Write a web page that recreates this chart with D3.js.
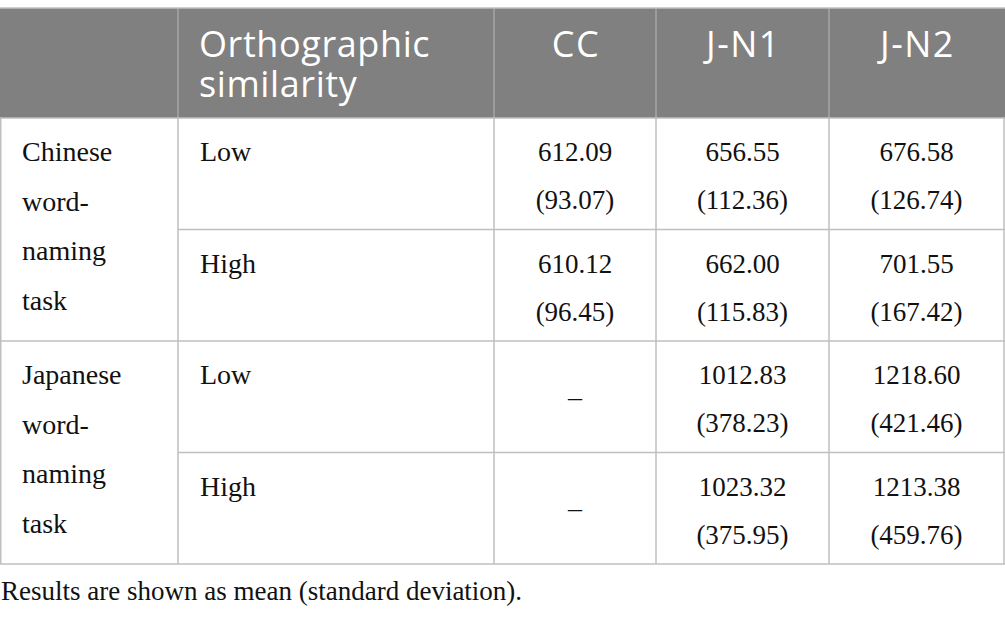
<!DOCTYPE html>
<html><head><meta charset="utf-8">
<script src="https://cdn.jsdelivr.net/npm/d3@7/dist/d3.min.js"></script>
<style>html,body{margin:0;padding:0;background:#fff;}svg{display:block;}</style>
</head><body>
<svg id="chart" width="1005" height="621"></svg>
<script>
// ---- data ----
const headers = ["", "Orthographic\nsimilarity", "CC", "J-N1", "J-N2"];
const groups = ["Chinese\nword-\nnaming\ntask", "Japanese\nword-\nnaming\ntask"];
const similarity = ["Low", "High"];
const simOfRow = [0, 1, 0, 1];
const meanCC  = [612.09, 610.12, null, null];
const sdCC    = [93.07, 96.45, null, null];
const meanJN1 = [656.55, 662.00, 1012.83, 1023.32];
const sdJN1   = [112.36, 115.83, 378.23, 375.95];
const meanJN2 = [676.58, 701.55, 1218.60, 1213.38];
const sdJN2   = [126.74, 167.42, 421.46, 459.76];
const footnote = "Results are shown as mean (standard deviation).";

// ---- layout ----
const svg = d3.select("#chart");
const colEdges = [0, 178, 494, 656, 829, 1004];
const x = d3.scaleOrdinal().domain(d3.range(5)).range(colEdges.slice(0, 5));
const w = i => colEdges[i + 1] - colEdges[i];
const topY = 8, headH = 110;
const y = d3.scaleLinear().domain([0, 4]).range([topY + headH, 564]);
const serif = "'Liberation Serif', 'Times New Roman', serif";
const sans = "'Open Sans', 'Noto Sans', sans-serif";
const lineC = "#bfbfbf";

// header background
svg.append("rect").attr("x", 0).attr("y", topY).attr("width", 1005).attr("height", headH).attr("fill", "#7f807f");
// header dividers
svg.selectAll(".hdiv").data(colEdges.slice(1, 5)).join("line")
  .attr("x1", d => d).attr("x2", d => d).attr("y1", topY).attr("y2", topY + headH)
  .attr("stroke", "#a6a6a6").attr("stroke-width", 1.5);
svg.append("line").attr("x1", 0).attr("x2", 1005).attr("y1", topY).attr("y2", topY).attr("stroke", lineC).attr("stroke-width", 1.5);

// header text
headers.forEach((h, i) => {
  const lines = h.split("\n");
  const t = svg.append("text").attr("fill", "#fff").attr("font-family", sans).attr("font-size", 36)
    .attr("font-weight", 400).attr("letter-spacing", i >= 2 ? 1.5 : 0.6)
    .attr("text-anchor", i >= 2 ? "middle" : "start");
  lines.forEach((l, k) => t.append("tspan")
    .attr("x", i >= 2 ? x(i) + w(i) / 2 + 1 : x(i) + 21)
    .attr("y", topY + 49 + k * 40).text(l));
});

// body grid lines
[0, 2, 4].forEach(r => svg.append("line").attr("x1", 0).attr("x2", 1005).attr("y1", y(r)).attr("y2", y(r)).attr("stroke", lineC).attr("stroke-width", 1.5));
[1, 3].forEach(r => svg.append("line").attr("x1", colEdges[1]).attr("x2", 1005).attr("y1", y(r)).attr("y2", y(r)).attr("stroke", lineC).attr("stroke-width", 1.5));
[0, 1, 2, 3, 4, 5].forEach(c => svg.append("line").attr("x1", Math.max(colEdges[c], 0.75)).attr("x2", Math.max(colEdges[c], 0.75))
  .attr("y1", y(0)).attr("y2", y(4)).attr("stroke", lineC).attr("stroke-width", 1.5));

// group labels
groups.forEach((g, gi) => {
  const t = svg.append("text").attr("font-family", serif).attr("font-size", 28).attr("fill", "#111");
  g.split("\n").forEach((l, k) => t.append("tspan").attr("x", 22).attr("y", y(gi * 2) + 43 + k * 49.5).text(l));
});

// similarity labels
d3.range(4).forEach(r => {
  svg.append("text").attr("font-family", serif).attr("font-size", 28).attr("fill", "#111")
    .attr("x", x(1) + 22).attr("y", y(r) + 43).text(similarity[simOfRow[r]]);
});

// values
const cols = [[meanCC, sdCC], [meanJN1, sdJN1], [meanJN2, sdJN2]];
cols.forEach(([m, s], ci) => {
  const c = ci + 2;
  const cx = x(c) + w(c) / 2;
  d3.range(4).forEach(r => {
    if (m[r] == null) {
      svg.append("text").attr("font-family", serif).attr("font-size", 28).attr("fill", "#111")
        .attr("x", cx).attr("y", (y(r) + y(r + 1)) / 2 + 9).attr("text-anchor", "middle").text("\u2013");
    } else {
      const t = svg.append("text").attr("font-family", serif).attr("font-size", 27).attr("fill", "#111").attr("text-anchor", "middle");
      t.append("tspan").attr("x", cx).attr("y", y(r) + 43).text(d3.format(".2f")(m[r]));
      t.append("tspan").attr("x", cx).attr("y", y(r) + 91).text("(" + d3.format(".2f")(s[r]) + ")");
    }
  });
});

// footnote
svg.append("text").attr("font-family", serif).attr("font-size", 27).attr("fill", "#111")
  .attr("x", 1).attr("y", 600).text(footnote);
</script>
</body></html>
